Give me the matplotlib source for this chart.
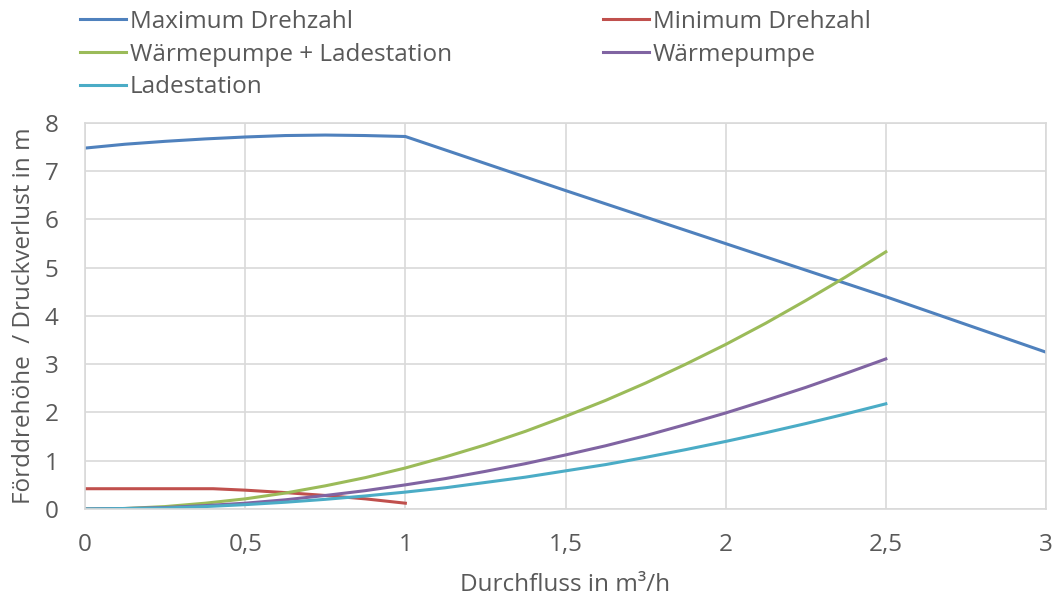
"""
Pumpenkennlinie vs. Anlagenkennlinien
"""

from matplotlib import pyplot as plt
from matplotlib.ticker import FuncFormatter

# --------------------------------------------------------------------------------------------------
# Data
# --------------------------------------------------------------------------------------------------

x_max = [0, 0.125, 0.25, 0.375, 0.5, 0.625, 0.75, 0.875, 1, 1.5, 2, 2.5, 3]
y_max = [7.48, 7.56, 7.62, 7.67, 7.71, 7.74, 7.75, 7.74, 7.72, 6.6, 5.5, 4.4, 3.25]

x_min = [0, 0.4, 0.5, 0.625, 0.75, 0.875, 1]
y_min = [0.42, 0.42, 0.39, 0.34, 0.28, 0.21, 0.12]

x_sys = [0, 0.125, 0.25, 0.375, 0.5, 0.625, 0.75, 0.875, 1, 1.125, 1.25,
         1.375, 1.5, 1.625, 1.75, 1.875, 2, 2.125, 2.25, 2.375, 2.5]
y_wp_ls = [0, 0.01, 0.05, 0.12, 0.21, 0.33, 0.48, 0.65, 0.85, 1.08, 1.33,
           1.61, 1.92, 2.25, 2.61, 3.0, 3.41, 3.85, 4.32, 4.81, 5.33]
y_wp = [0, 0.01, 0.03, 0.07, 0.12, 0.19, 0.28, 0.38, 0.5, 0.63, 0.78,
        0.94, 1.12, 1.31, 1.52, 1.75, 1.99, 2.25, 2.52, 2.81, 3.11]
y_ls = [0, 0.01, 0.02, 0.05, 0.09, 0.14, 0.2, 0.27, 0.35, 0.44, 0.55,
        0.66, 0.79, 0.92, 1.07, 1.23, 1.4, 1.58, 1.77, 1.97, 2.18]

x_ticks = [0, 0.5, 1, 1.5, 2, 2.5, 3]
y_ticks = [0, 1, 2, 3, 4, 5, 6, 7, 8]

# --------------------------------------------------------------------------------------------------
# Plot
# --------------------------------------------------------------------------------------------------

plt.rcParams['font.family'] = ['Open Sans', 'DejaVu Sans']
text_col = '#595959'
grid_col = '#d9d9d9'
fs = 17.5

fig = plt.figure(figsize=(10.63, 6.05), dpi=100)
ax = fig.add_axes([0.080, 0.1587, 0.904, 0.638])

l_max, = ax.plot(x_max, y_max, color='#4f81bd', lw=2.2, label='Maximum Drehzahl')
l_min, = ax.plot(x_min, y_min, color='#c0504d', lw=2.2, label='Minimum Drehzahl')
l_wpls, = ax.plot(x_sys, y_wp_ls, color='#9bbb59', lw=2.2, label='Wärmepumpe + Ladestation')
l_wp, = ax.plot(x_sys, y_wp, color='#8064a2', lw=2.2, label='Wärmepumpe')
l_ls, = ax.plot(x_sys, y_ls, color='#4bacc6', lw=2.2, label='Ladestation')

ax.set_xlim(0, 3)
ax.set_ylim(0, 8)
ax.set_xticks(x_ticks)
ax.set_yticks(y_ticks)
ax.xaxis.set_major_formatter(FuncFormatter(lambda v, p: f'{v:g}'.replace('.', ',')))
ax.tick_params(length=0, labelsize=fs, colors=text_col)
ax.tick_params(axis='x', pad=17)
ax.tick_params(axis='y', pad=19)
ax.grid(True, color=grid_col, lw=1.2)
ax.set_axisbelow(True)
for s in ax.spines.values():
    s.set_color(grid_col)
    s.set_linewidth(1.2)

ax.set_xlabel('Durchfluss in m³/h', fontsize=fs, color=text_col, labelpad=12)
ax.set_ylabel('Förddrehöhe  / Druckverlust in m', fontsize=fs, color=text_col, labelpad=6)

# Legend: two columns at the top, placed separately
leg_kw = dict(loc='upper left', frameon=False, fontsize=fs, labelcolor=text_col,
              handlelength=1.9, handletextpad=0.15, labelspacing=0.35,
              borderpad=0, borderaxespad=0)
fig.legend([l_max, l_wpls, l_ls],
           [h.get_label() for h in [l_max, l_wpls, l_ls]],
           bbox_to_anchor=(80 / 1063, 1 - 10 / 605), **leg_kw)
fig.legend([l_min, l_wp],
           [h.get_label() for h in [l_min, l_wp]],
           bbox_to_anchor=(603 / 1063, 1 - 10 / 605), **leg_kw)

fig.savefig('out.png', dpi=100)
